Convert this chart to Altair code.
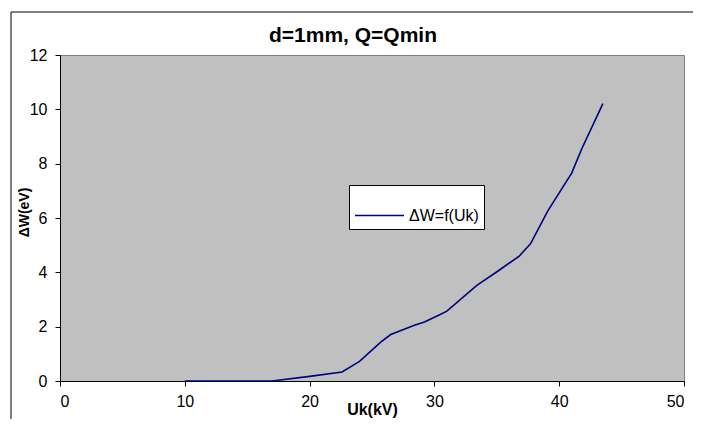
import altair as alt
import pandas as pd

uk = [10, 13, 17, 20, 22.6, 24.0, 25.7, 26.5, 28.4, 29.2, 30.3, 31.0, 33.4, 35.1, 36.8, 37.7, 39.1, 41.0, 41.8, 43.5]
dw = [0, 0, 0, 0.17, 0.33, 0.72, 1.43, 1.71, 2.05, 2.17, 2.41, 2.57, 3.52, 4.05, 4.6, 5.05, 6.27, 7.65, 8.54, 10.21]
series_name = "ΔW=f(Uk)"
chart_title = "d=1mm, Q=Qmin"
x_ticks = [0, 10, 20, 30, 40, 50]
y_ticks = [0, 2, 4, 6, 8, 10, 12]

df = pd.DataFrame({"Uk": uk, "dW": dw, "series": [series_name] * len(uk)})

FONT = "Liberation Sans"
W, H = 624, 326

line = alt.Chart(df).mark_line(color="#000080", strokeWidth=1.6).encode(
    x=alt.X("Uk:Q", scale=alt.Scale(domain=[0, 50], nice=False),
            axis=alt.Axis(values=x_ticks, title="Uk(kV)", grid=False,
                          domainColor="#000000", tickColor="#000000", tickSize=5,
                          labelPadding=7, labelFontSize=16, labelFont=FONT,
                          labelColor="#000000",
                          titleFont=FONT, titleFontSize=16, titleFontWeight="bold",
                          titleY=33, titleBaseline="alphabetic", titleColor="#000000")),
    y=alt.Y("dW:Q", scale=alt.Scale(domain=[0, 12], nice=False),
            axis=alt.Axis(values=y_ticks, title="ΔW(eV)", grid=False,
                          domainColor="#000000", tickColor="#000000", tickSize=5,
                          labelPadding=8, labelFontSize=16, labelFont=FONT,
                          labelColor="#000000",
                          titleFont=FONT, titleFontSize=14, titleFontWeight="bold",
                          titleX=-32, titleY=157, titleBaseline="alphabetic",
                          titleColor="#000000")),
    color=alt.Color("series:N", scale=alt.Scale(range=["#000080"]),
                    legend=alt.Legend(title=None, orient="none", legendX=289, legendY=130,
                                      fillColor="#FFFFFF", strokeColor="#000000",
                                      padding=5, symbolType="stroke",
                                      symbolSize=2400, symbolStrokeWidth=1.6,
                                      labelOffset=4,
                                      labelFont=FONT, labelFontSize=16,
                                      labelColor="#000000"))
)

title = alt.Chart(pd.DataFrame({"t": [chart_title]})).mark_text(
    font=FONT, fontSize=21, fontWeight="bold", color="#000000",
    align="center", baseline="alphabetic"
).encode(text="t:N", x=alt.value(293), y=alt.value(-13))

border = alt.Chart(pd.DataFrame({"a": [0]})).mark_rect(
    fill=None, stroke="#000000", strokeWidth=1
).encode(x=alt.value(-49), x2=alt.value(660), y=alt.value(-43), y2=alt.value(400))

chart = alt.layer(line, title, border).properties(
    width=W, height=H,
    autosize=alt.AutoSizeParams(type="none"),
    padding={"left": 52, "top": 47, "right": 9, "bottom": 38},
    background="#FFFFFF",
).configure_view(fill="#C0C0C0", stroke="#808080", strokeWidth=1)

chart.save("out.html", embed_options={"renderer": "svg", "actions": False})
